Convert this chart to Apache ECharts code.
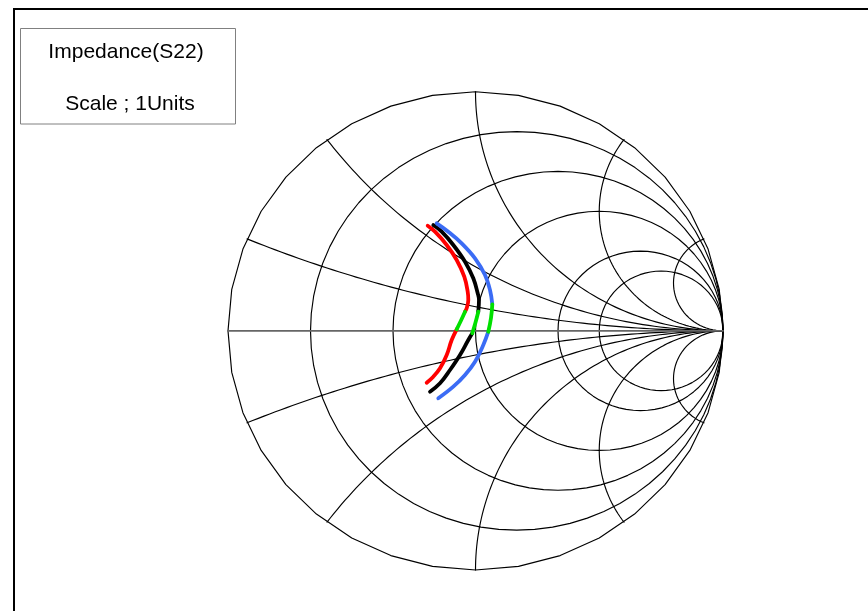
<!DOCTYPE html>
<html>
<head>
<meta charset="utf-8">
<script src="https://cdn.jsdelivr.net/npm/echarts@6/dist/echarts.min.js"></script>
<style>
html,body{margin:0;padding:0;background:#ffffff;}
#chart{width:868px;height:611px;}
</style>
</head>
<body>
<div id="chart"></div>
<script>
// ---- chart texts ----
const legendLines = ['Impedance(S22)', 'Scale ; 1Units'];

// ---- Smith chart grid values ----
const resistanceCircles = [0.2, 0.5, 1, 2, 3];
const reactanceArcs = [0.2, 0.5, 1, 2, 5];

const redRe = [-0.1931, -0.1636, -0.1164, -0.0760, -0.0453, -0.0315, -0.0291, -0.0356, -0.0424, -0.0586, -0.0760, -0.0962, -0.1164, -0.1434, -0.1705, -0.1972];
const redIm = [ 0.4397,  0.4146,  0.3590,  0.2963,  0.2264,  0.1637,  0.1290,  0.0943,  0.0801,  0.0433,  0.0065, -0.0383, -0.1010, -0.1568, -0.1917, -0.2168];
const redBand = [8, 10];

const blackRe = [-0.1705, -0.1366, -0.0897, -0.0424, -0.0089, 0.0089, 0.0141, 0.0113, 0.0000, -0.0129, -0.0291, -0.0626, -0.1030, -0.1434, -0.1838];
const blackIm = [ 0.4426,  0.4146,  0.3590,  0.2892,  0.2197, 0.1570, 0.1290, 0.0801, 0.0349, -0.0102, -0.0383, -0.1010, -0.1637, -0.2193, -0.2544];
const blackBand = [7, 9];

const blueRe = [-0.1568, -0.1099, -0.0558, -0.0020, 0.0384, 0.0586, 0.0679, 0.0626, 0.0517, 0.0315, -0.0020, -0.0424, -0.0897, -0.1503];
const blueIm = [ 0.4497,  0.4146,  0.3661,  0.3034, 0.2335, 0.1708, 0.1110, 0.0537, -0.0036, -0.0592, -0.1290, -0.1846, -0.2335, -0.2820];
const blueBand = [6, 8];

// ---- helpers ----
function seg(re, im, a, b) {
  const out = [];
  for (let i = a; i <= b; i++) out.push([re[i], im[i]]);
  return out;
}
function lineSeries(data, color, width, z, smooth) {
  return {
    type: 'line', data: data, symbol: 'none', showSymbol: false, silent: true,
    smooth: smooth || false, clip: false, z: z,
    lineStyle: { color: color, width: width, cap: 'round', join: 'round' },
    emphasis: { disabled: true }, animation: false
  };
}

const series = [];
// outer boundary (r = 0), drawn as a 36-sided polygon
const outer = [];
for (let k = 0; k <= 36; k++) {
  const t = k * Math.PI / 18;
  outer.push([Math.cos(t), Math.sin(t)]);
}
series.push(lineSeries(outer, '#000000', 1.15, 2));

// constant resistance circles
resistanceCircles.forEach(function (r) {
  const c = r / (1 + r), rad = 1 / (1 + r), pts = [];
  const N = 72;
  for (let k = 0; k <= N; k++) {
    const t = k * 2 * Math.PI / N;
    pts.push([c + rad * Math.cos(t), rad * Math.sin(t)]);
  }
  series.push(lineSeries(pts, '#000000', 1.15, 2));
});

// constant reactance arcs (positive and negative)
reactanceArcs.forEach(function (x) {
  [1, -1].forEach(function (s) {
    const rad = 1 / x;
    const xb = (x * x - 1) / (x * x + 1), yb = 2 * x / (x * x + 1);
    let t0 = Math.atan2(yb - rad, xb - 1);
    if (t0 < 0) t0 += 2 * Math.PI;
    const t1 = 1.5 * Math.PI, N = 80, pts = [];
    for (let k = 0; k <= N; k++) {
      const t = t0 + (t1 - t0) * k / N;
      pts.push([1 + rad * Math.cos(t), s * (rad + rad * Math.sin(t))]);
    }
    series.push(lineSeries(pts, '#000000', 1.15, 2));
  });
});

// real axis
series.push(lineSeries([[-1, 0], [1, 0]], '#666666', 1.8, 3));

// traces
const traces = [
  { re: redRe, im: redIm, band: redBand, color: '#ff0000' },
  { re: blackRe, im: blackIm, band: blackBand, color: '#000000' },
  { re: blueRe, im: blueIm, band: blueBand, color: '#3b6cf5' }
];
const green = '#00e000';
traces.forEach(function (tr, i) {
  const n = tr.re.length - 1;
  series.push(lineSeries(seg(tr.re, tr.im, 0, tr.band[0]), tr.color, 3.8, 10 + i, 0.4));
  series.push(lineSeries(seg(tr.re, tr.im, tr.band[1], n), tr.color, 3.8, 10 + i, 0.4));
  series.push(lineSeries(seg(tr.re, tr.im, tr.band[0], tr.band[1]), green, 3.8, 20 + i, 0.4));
});

const chart = echarts.init(document.getElementById('chart'), null, { renderer: 'canvas' });
chart.setOption({
  animation: false,
  backgroundColor: '#ffffff',
  grid: { left: 228, top: 91.7, width: 495, height: 478.3, containLabel: false },
  xAxis: { type: 'value', min: -1, max: 1, show: false },
  yAxis: { type: 'value', min: -1, max: 1, show: false },
  series: series,
  graphic: [
    { type: 'polyline', silent: true, z: 100,
      shape: { points: [[14, 611], [14, 9], [868, 9]] },
      style: { stroke: '#000000', lineWidth: 2, fill: null } },
    { type: 'rect', silent: true, z: 100,
      shape: { x: 20.5, y: 28.5, width: 215, height: 95.5 },
      style: { stroke: '#808080', lineWidth: 1, fill: '#ffffff' } },
    { type: 'text', silent: true, z: 101, x: 126, y: 52.5,
      style: { text: legendLines[0], fontSize: 21, fontFamily: '"Liberation Sans", Arial, sans-serif',
               fill: '#000000', align: 'center', verticalAlign: 'middle' } },
    { type: 'text', silent: true, z: 101, x: 130, y: 104,
      style: { text: legendLines[1], fontSize: 21, fontFamily: '"Liberation Sans", Arial, sans-serif',
               fill: '#000000', align: 'center', verticalAlign: 'middle' } }
  ]
});
</script>
</body>
</html>
